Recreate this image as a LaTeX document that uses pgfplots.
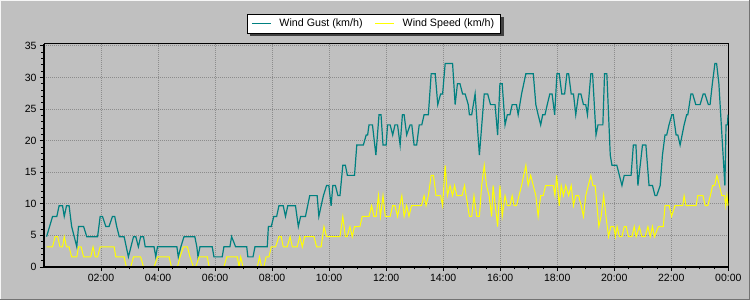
\documentclass[border=0pt]{standalone}
\usepackage{fontspec}
\setmainfont{Liberation Sans}
\usepackage{pgfplots}
\usepackage{pgfplotstable}
\pgfplotsset{compat=1.18}
\definecolor{bg}{HTML}{C0C0C0}
\definecolor{gust}{HTML}{008080}
\definecolor{speed}{HTML}{FFFF00}
\definecolor{gridc}{HTML}{8C8C8C}

\pgfplotstableread{
h v
0.09 4.8
0.30 8.0
0.45 8.0
0.53 9.7
0.65 9.7
0.71 8.0
0.79 9.7
0.88 9.7
0.97 6.4
1.15 3.2
1.21 6.4
1.39 6.4
1.50 4.8
1.88 4.8
1.97 8.0
2.05 8.0
2.17 6.4
2.28 6.4
2.40 8.0
2.48 8.0
2.55 6.4
2.64 4.8
2.81 4.8
2.96 1.6
3.14 4.8
3.22 4.8
3.31 3.2
3.39 4.8
3.49 4.8
3.55 3.2
3.86 3.2
3.92 1.6
3.98 3.2
4.66 3.2
4.71 1.6
4.80 3.2
4.91 4.8
5.29 4.8
5.36 3.2
5.40 1.6
5.47 3.2
5.90 3.2
5.96 1.6
6.25 1.6
6.31 3.2
6.52 3.2
6.58 4.8
6.72 3.2
7.11 3.2
7.15 1.6
7.33 1.6
7.40 3.2
7.83 3.2
7.87 6.4
7.97 6.4
8.06 8.0
8.16 8.0
8.24 9.7
8.39 9.7
8.47 8.0
8.55 9.7
8.82 9.7
8.92 6.4
9.00 8.0
9.17 8.0
9.32 11.3
9.58 11.3
9.64 8.0
9.72 9.7
9.80 11.3
9.91 12.9
9.99 12.9
10.07 9.7
10.13 12.9
10.22 12.9
10.31 11.3
10.38 11.3
10.48 16.1
10.57 16.1
10.64 14.5
10.89 14.5
10.97 19.3
11.20 19.3
11.30 20.9
11.35 20.9
11.40 22.5
11.52 22.5
11.64 17.7
11.75 24.1
11.82 24.1
11.89 19.3
12.00 19.3
12.05 22.5
12.14 22.5
12.23 20.9
12.31 22.5
12.40 22.5
12.49 19.3
12.57 24.1
12.63 24.1
12.72 20.9
12.84 22.5
12.90 22.5
12.98 19.3
13.07 19.3
13.16 22.5
13.25 22.5
13.33 24.1
13.48 24.1
13.58 30.6
13.72 30.6
13.81 25.7
13.91 27.4
13.98 27.4
14.07 32.2
14.33 32.2
14.42 25.7
14.50 29.0
14.59 29.0
14.68 27.4
14.77 27.4
14.88 25.7
14.92 24.1
15.00 24.1
15.12 27.4
15.27 17.7
15.44 27.4
15.56 27.4
15.66 25.7
15.82 25.7
15.91 20.9
15.99 29.0
16.07 29.0
16.17 22.5
16.25 24.1
16.34 24.1
16.42 25.7
16.57 25.7
16.63 24.1
16.75 27.4
16.90 30.6
17.16 30.6
17.25 25.7
17.33 24.1
17.42 22.5
17.49 24.1
17.57 24.1
17.65 25.7
17.74 27.4
17.82 27.4
17.91 24.1
17.99 30.6
18.07 30.6
18.16 27.4
18.26 27.4
18.34 30.6
18.40 30.6
18.49 27.4
18.57 27.4
18.65 24.1
18.75 27.4
18.83 27.4
18.92 25.7
19.00 25.7
19.06 24.1
19.18 30.6
19.24 30.6
19.36 20.9
19.43 22.5
19.60 22.5
19.66 30.6
19.74 30.6
19.86 17.7
19.92 16.1
20.09 16.1
20.27 12.9
20.35 14.5
20.59 14.5
20.67 19.3
20.76 19.3
20.83 12.9
20.99 19.3
21.11 19.3
21.22 12.9
21.34 12.9
21.43 11.3
21.49 11.3
21.61 12.9
21.69 17.7
21.78 20.9
21.84 20.9
21.92 22.5
22.02 24.1
22.07 24.1
22.17 20.9
22.23 20.9
22.31 19.3
22.45 22.5
22.54 24.1
22.58 24.1
22.69 27.4
22.75 27.4
22.86 25.7
23.01 25.7
23.12 27.4
23.18 27.4
23.30 25.7
23.36 25.7
23.44 29.0
23.53 32.2
23.59 32.2
23.67 29.0
23.88 12.9
23.92 22.5
23.97 22.5
23.99 24.1
}\gusttable

\pgfplotstableread{
h v
0.09 3.2
0.30 3.2
0.39 4.8
0.48 4.8
0.56 3.2
0.65 3.2
0.71 4.8
0.79 3.2
0.88 3.2
0.97 1.6
1.15 1.6
1.21 3.2
1.30 3.2
1.39 1.6
1.64 1.6
1.72 3.2
1.80 1.6
1.88 1.6
1.97 3.2
2.46 3.2
2.52 1.6
2.81 1.6
2.89 0
3.04 0
3.14 1.6
3.39 1.6
3.49 0
3.86 0
3.98 1.6
4.39 1.6
4.47 0
4.68 0
4.77 1.6
4.89 3.2
5.03 3.2
5.12 1.6
5.24 0
5.32 0
5.44 1.6
5.73 1.6
5.79 0
6.31 0
6.41 1.6
6.78 1.6
6.84 0
6.90 1.6
6.98 0
7.48 0
7.56 1.6
7.63 0
7.71 0
7.79 1.6
7.89 1.6
7.97 3.2
8.12 3.2
8.24 4.8
8.32 4.8
8.39 3.2
8.53 3.2
8.63 4.8
8.71 3.2
8.88 3.2
8.97 4.8
9.06 3.2
9.14 4.8
9.47 4.8
9.56 3.2
9.72 3.2
9.82 6.4
9.91 4.8
10.38 4.8
10.48 8.0
10.57 4.8
10.63 4.8
10.73 6.4
10.81 4.8
10.89 6.4
11.08 6.4
11.16 8.0
11.40 8.0
11.49 9.7
11.57 8.0
11.65 8.0
11.73 11.3
11.80 8.0
11.89 11.3
11.97 8.0
12.14 8.0
12.23 9.7
12.31 9.7
12.40 8.0
12.55 11.3
12.63 8.0
12.72 9.7
12.80 8.0
12.89 9.7
13.24 9.7
13.33 11.3
13.40 9.7
13.48 11.3
13.58 14.5
13.66 14.5
13.75 11.3
13.91 11.3
13.98 9.7
14.07 16.1
14.15 11.3
14.24 12.9
14.33 11.3
14.40 12.9
14.48 11.3
14.66 11.3
14.75 12.9
14.92 8.0
15.00 8.0
15.08 11.3
15.18 8.0
15.27 8.0
15.35 12.9
15.44 16.1
15.52 12.9
15.61 11.3
15.70 8.0
15.75 12.9
15.91 6.4
15.99 12.9
16.07 8.0
16.17 11.3
16.25 9.7
16.34 9.7
16.42 11.3
16.49 9.7
16.57 9.7
16.66 11.3
16.75 12.9
16.90 16.1
16.98 12.9
17.07 14.5
17.16 12.9
17.25 11.3
17.33 8.0
17.42 11.3
17.51 11.3
17.59 12.9
17.86 12.9
17.92 11.3
17.98 14.5
18.07 9.7
18.14 12.9
18.22 11.3
18.30 12.9
18.40 11.3
18.49 12.9
18.57 9.7
18.65 11.3
18.75 11.3
18.84 9.7
18.92 8.0
19.00 11.3
19.09 12.9
19.18 14.5
19.25 12.9
19.33 12.9
19.46 6.4
19.54 8.0
19.63 11.3
19.71 8.0
19.80 4.8
19.88 6.4
19.99 6.4
20.04 4.8
20.10 6.4
20.18 4.8
20.27 4.8
20.35 6.4
20.42 6.4
20.50 4.8
20.62 4.8
20.70 6.4
20.77 4.8
20.88 6.4
20.97 4.8
21.08 4.8
21.18 6.4
21.26 4.8
21.34 6.4
21.41 4.8
21.55 6.4
21.72 6.4
21.78 9.7
21.93 9.7
22.01 8.0
22.13 9.7
22.40 9.7
22.45 11.3
22.52 9.7
22.87 9.7
22.93 11.3
23.11 11.3
23.19 9.7
23.28 9.7
23.37 11.3
23.45 12.9
23.52 12.9
23.60 14.5
23.69 12.9
23.77 11.3
23.87 11.3
23.91 9.7
23.95 11.3
23.99 9.7
}\speedtable

\begin{document}
\begin{tikzpicture}[x=1pt,y=1pt]
\fill[bg] (0,0) rectangle (750,300);
\draw[white!85!bg, line width=1pt] (0.5,0) -- (0.5,299.5) -- (750,299.5);
\draw[black!40!bg, line width=1pt] (0,0.5) -- (749.5,0.5) -- (749.5,300);
\begin{axis}[
  at={(44pt,33pt)}, anchor=south west,
  scale only axis, width=684.3pt, height=223pt,
  xmin=0, xmax=24, ymin=0, ymax=35.3,
  axis background/.style={fill=bg},
  xtick={2,4,...,24},
  xticklabels={02:00,04:00,06:00,08:00,10:00,12:00,14:00,16:00,18:00,20:00,22:00,00:00},
  minor x tick num=3,
  ytick={0,5,...,35}, minor y tick num=4,
  tick pos=left, tick align=outside,
  major tick length=4pt, minor tick length=2.5pt,
  every tick/.style={black, line width=0.8pt},
  grid=major,
  grid style={gridc, line width=0.8pt, dash pattern=on 1pt off 1pt},
  axis line style={black, line width=1pt},
  ticklabel style={font=\fontsize{10.5}{12}\selectfont, text=black},
  /pgf/number format/assume math mode=true,
  legend style={name=leg, at={(0.482,1.133)}, anchor=north, draw=black, fill=white,
    line width=0.8pt, font=\fontsize{10.7}{12}\selectfont,
    inner xsep=4pt, inner ysep=2.5pt,
    /tikz/every odd column/.append style={column sep=6pt},
    /tikz/every even column/.append style={column sep=10pt}},
  legend columns=2,
  legend cell align=left,
  legend image code/.code={\draw[#1, line width=1pt] (0pt,0pt) -- (19pt,0pt);},
  after end axis/.code={\draw[black, line width=2pt] (rel axis cs:0,1) -- (rel axis cs:0,0) -- (rel axis cs:1,0);},
]
\addplot[gust, line width=1.2pt] table[x=h, y=v] {\gusttable};
\addlegendentry{Wind Gust (km/h)}
\addplot[speed, line width=1pt] table[x=h, y=v] {\speedtable};
\addlegendentry{Wind Speed (km/h)}
\end{axis}
\fill[black!75] ([xshift=0.4pt,yshift=-3pt]leg.north east) rectangle ([xshift=3pt,yshift=-3pt]leg.south east);
\fill[black!75] ([xshift=3pt,yshift=-0.4pt]leg.south west) rectangle ([xshift=3pt,yshift=-3pt]leg.south east);
\pgfresetboundingbox
\useasboundingbox (0,0) rectangle (750,300);
\end{tikzpicture}
\end{document}
